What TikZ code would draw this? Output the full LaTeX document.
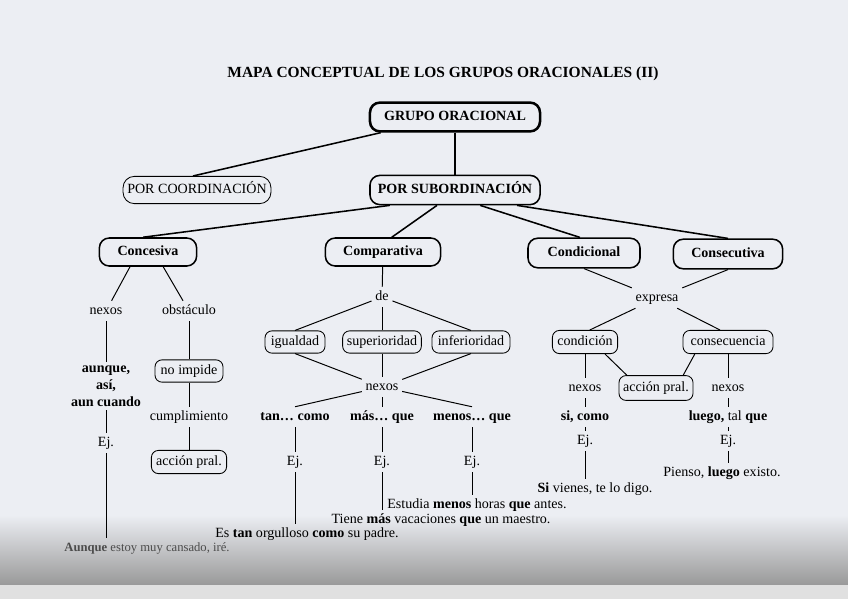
\documentclass[tikz,border=0pt]{standalone}
\usepackage{fontspec}
\setmainfont{Liberation Serif}
\usepackage{tikz}
\definecolor{paper}{RGB}{236,238,243}

\begin{document}
\begin{tikzpicture}[x=0.025cm, y=-0.025cm,
        main/.style = {draw, line width=1.8pt, rounded corners=7pt, font=\bfseries, text height=1.6ex, text depth=0.4ex, minimum width=4.25cm, minimum height=0.72cm},
        sub/.style = {draw, line width=1.1pt, rounded corners=7pt, font=\bfseries, text height=1.6ex, text depth=0.4ex, minimum height=0.7cm},
        leaf/.style = {draw, line width=0.6pt, rounded corners=5pt, inner xsep=3pt, text height=1.6ex, text depth=0.4ex, minimum height=0.52cm},
        word/.style = {inner sep=2.5pt, text height=1.6ex, text depth=0.4ex},
        ex/.style = {inner sep=2pt, text height=1.6ex, text depth=0.4ex},
        link/.style = {line width=1.1pt},
        thin/.style = {line width=0.7pt}]
        \useasboundingbox (0,0) rectangle (848,599);
        \fill[paper] (0,0) rectangle (848,599);
        \shade[top color=paper, bottom color=black!40] (0,515) rectangle (848,585);
        \fill[black!12] (0,585) rectangle (848,599);

                \node[font=\fontsize{11}{13}\selectfont\bfseries] at (443, 74) (T) {MAPA CONCEPTUAL DE LOS GRUPOS ORACIONALES (II)};

                \node[main] at (455, 117) (G) {GRUPO ORACIONAL};
                \node[leaf, minimum width=3.6cm, minimum height=0.68cm, rounded corners=8pt] at (197, 190) (PC) {POR COORDINACIÓN};
                \node[sub, minimum width=4.25cm, minimum height=0.73cm] at (455, 190) (PS) {POR SUBORDINACIÓN};

                \node[sub, minimum width=2.43cm] at (148, 252) (Ces) {Concesiva};
                \node[sub, minimum width=2.88cm] at (383, 252) (Cmp) {Comparativa};
                \node[sub, minimum width=2.8cm, minimum height=0.74cm] at (584, 253) (Cnd) {Condicional};
                \node[sub, minimum width=2.73cm, minimum height=0.74cm] at (728, 254) (Csc) {Consecutiva};

                % concesiva
                \node[word] at (106, 311) (nx1) {nexos};
                \node[word] at (189, 311) (obs) {obstáculo};
                \node[inner sep=2.5pt, font=\bfseries, align=center] at (106, 386) (aun) {aunque,\\así,\\aun cuando};
                \node[word] at (106, 443) (ej1) {Ej.};
                \node[ex, text=black!70, font=\small] at (147, 548) (s1) {\textbf{Aunque} estoy muy cansado, iré.};
                \node[leaf, minimum width=1.7cm, minimum height=0.46cm] at (189, 371) (imp) {no impide};
                \node[word] at (189, 417) (cum) {cumplimiento};
                \node[leaf, minimum width=1.88cm, minimum height=0.58cm] at (189, 462) (acc1) {acción pral.};

                % comparativa
                \node[word] at (382, 297) (de) {de};
                \node[leaf, minimum width=1.5cm] at (295, 342) (igu) {igualdad};
                \node[leaf, minimum width=1.93cm] at (382, 342) (sup) {superioridad};
                \node[leaf, minimum width=1.95cm] at (471, 342) (inf) {inferioridad};
                \node[word] at (382, 387) (nx2) {nexos};
                \node[word, font=\bfseries] at (295, 417) (tan) {tan\dots{} como};
                \node[word, font=\bfseries] at (382, 417) (mas) {más\dots{} que};
                \node[word, font=\bfseries] at (472, 417) (men) {menos\dots{} que};
                \node[word] at (295, 462) (ej2) {Ej.};
                \node[word] at (382, 462) (ej3) {Ej.};
                \node[word] at (472, 462) (ej4) {Ej.};
                \node[ex] at (307, 534) (s2) {Es \textbf{tan} orgulloso \textbf{como} su padre.};
                \node[ex] at (441, 520) (s3) {Tiene \textbf{más} vacaciones \textbf{que} un maestro.};
                \node[ex] at (477, 505) (s4) {Estudia \textbf{menos} horas \textbf{que} antes.};

                % condicional y consecutiva
                \node[word] at (657, 298) (exp) {expresa};
                \node[leaf, minimum width=1.63cm, minimum height=0.58cm] at (585, 342) (cdn) {condición};
                \node[leaf, minimum width=2.25cm, minimum height=0.58cm] at (728, 342) (csq) {consecuencia};
                \node[leaf, minimum width=1.7cm, minimum height=0.62cm] at (656, 388) (acc2) {acción pral.};
                \node[word] at (585, 388) (nx3) {nexos};
                \node[word] at (728, 388) (nx4) {nexos};
                \node[word, font=\bfseries] at (585, 417) (si) {si, como};
                \node[word] at (728, 417) (lue) {\textbf{luego,} tal \textbf{que}};
                \node[word] at (585, 441) (ej5) {Ej.};
                \node[word] at (728, 441) (ej6) {Ej.};
                \node[ex] at (595, 489) (s5) {\textbf{Si} vienes, te lo digo.};
                \node[ex] at (722, 473) (s6) {Pienso, \textbf{luego} existo.};

                % upper links
                \draw [link] ([xshift=0.3cm]G.south west) -- ([xshift=-0.1cm]PC.north);
                \draw [link] (G) -- (PS);
                \draw [link] ([xshift=-1.63cm]PS.south) -- ([xshift=-0.12cm]Ces.north);
                \draw [link] ([xshift=-0.45cm]PS.south) -- ([xshift=0.22cm]Cmp.north);
                \draw [link] ([xshift=0.63cm]PS.south) -- ([xshift=-0.1cm]Cnd.north);
                \draw [link] ([xshift=1.55cm]PS.south) -- (Csc.north);

                % concesiva links
                \draw [thin] ([xshift=-0.45cm]Ces.south) -- (nx1);
                \draw [thin] ([xshift=0.38cm]Ces.south) -- (obs);
                \draw [thin] (nx1) -- (aun);
                \draw [thin] (aun) -- (ej1);
                \draw [thin] (ej1) -- (ej1 |- s1.north);
                \draw [thin] (obs) -- (imp);
                \draw [thin] (imp) -- (cum);
                \draw [thin] (cum) -- (acc1);

                % comparativa links
                \draw [thin] (Cmp) -- (de);
                \draw [thin] (de) -- (igu.north);
                \draw [thin] (de) -- (sup);
                \draw [thin] (de) -- (inf.north);
                \draw [thin] (igu.south) -- (nx2);
                \draw [thin] (sup) -- (nx2);
                \draw [thin] (inf.south) -- (nx2);
                \draw [thin] (nx2) -- (tan.north);
                \draw [thin] (nx2) -- (mas);
                \draw [thin] (nx2) -- (men.north);
                \draw [thin] (tan) -- (ej2);
                \draw [thin] (mas) -- (ej3);
                \draw [thin] (men) -- (ej4);
                \draw [thin] (ej2) -- (ej2 |- s2.north);
                \draw [thin] (ej3) -- (ej3 |- s3.north);
                \draw [thin] (ej4) -- (ej4 |- s4.north);

                % condicional y consecutiva links
                \draw [thin] (Cnd.south) -- (exp);
                \draw [thin] (Csc.south) -- (exp);
                \draw [thin] (exp) -- ([xshift=0.12cm]cdn.north);
                \draw [thin] (exp) -- ([xshift=-0.2cm]csq.north);
                \draw [thin] ([xshift=0.5cm]cdn.south) -- ([xshift=-0.73cm]acc2.north);
                \draw [thin] ([xshift=-0.83cm]csq.south) -- ([xshift=0.68cm]acc2.north);
                \draw [thin] (cdn) -- (nx3);
                \draw [thin] (nx3) -- (si);
                \draw [thin] (si) -- (ej5);
                \draw [thin] (ej5) -- (ej5 |- s5.north);
                \draw [thin] (csq) -- (nx4);
                \draw [thin] (nx4) -- (lue);
                \draw [thin] (lue) -- (ej6);
                \draw [thin] (ej6) -- (ej6 |- s6.north);
            \end{tikzpicture}
\end{document}
